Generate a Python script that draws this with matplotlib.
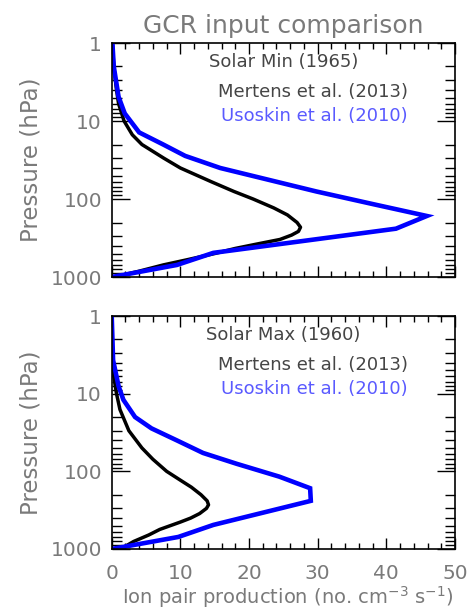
import numpy as np
import matplotlib
matplotlib.use('Agg')
import matplotlib.pyplot as plt
from matplotlib.ticker import MultipleLocator, LogLocator, FixedLocator, NullFormatter

# Solar Min (1965) - Mertens et al. (2013)
min_mert_p = [1, 2, 4, 6, 10, 15, 20, 30, 40, 60, 80, 100, 130, 160, 200, 230, 260, 290, 330,
              380, 430, 500, 600, 700, 850, 1000]
min_mert_x = [0.1, 0.3, 0.7, 1.0, 1.8, 3.0, 4.4, 7.6, 10.0, 14.5, 17.8, 20.6, 23.6, 25.6, 27.0,
              27.5, 27.2, 26.2, 24.5, 21.0, 18.0, 15.0, 11.0, 7.5, 3.8, 0.3]
# Solar Min (1965) - Usoskin et al. (2010)
min_uso_p = [1, 2, 4.9, 8, 14, 20, 28, 40, 80, 117, 165, 240, 490, 700, 1000]
min_uso_x = [0.1, 0.3, 1.0, 1.9, 4.0, 7.5, 10.7, 15.8, 29.8, 38.2, 45.9, 41.4, 14.8, 9.5, 0.0]

# Solar Max (1960) - Mertens et al. (2013)
max_mert_p = [1, 3, 6, 10, 16, 30, 50, 70, 100, 130, 160, 200, 240, 270, 300, 350, 400, 450,
              560, 660, 800, 1000]
max_mert_x = [0.0, 0.05, 0.3, 0.7, 1.2, 2.5, 4.4, 6.0, 8.0, 10.0, 11.6, 13.0, 13.9, 14.1, 13.8,
              12.8, 11.5, 10.0, 7.0, 5.4, 3.2, 1.3]
# Solar Max (1960) - Usoskin et al. (2010)
max_uso_p = [1, 3.7, 8, 12, 20, 28, 40, 58, 80, 117, 165, 240, 490, 700, 1000]
max_uso_x = [0.0, 0.2, 1.0, 1.7, 3.4, 5.8, 9.5, 13.3, 18.2, 24.4, 28.9, 29.0, 14.8, 9.7, 0.0]

ytick_vals = [1, 10, 100, 1000]
ytick_labs = ['1', '10', '100', '1000']

gray = '#7a7a7a'
dgray = '#454545'
lblue = '#5a5aff'

plt.rcParams['font.family'] = ['DejaVu Sans']

fig = plt.figure(figsize=(4.68, 6.11), dpi=100)
ax1 = fig.add_axes([0.2387, 0.5466, 0.7335, 0.383])
ax2 = fig.add_axes([0.2387, 0.1015, 0.7335, 0.3813])

panels = [
    (ax1, 'Solar Min (1965)', min_mert_x, min_mert_p, min_uso_x, min_uso_p),
    (ax2, 'Solar Max (1960)', max_mert_x, max_mert_p, max_uso_x, max_uso_p),
]

for ax, lab, mx, mp, ux, up in panels:
    ax.plot(mx, mp, color='black', lw=2.5, solid_joinstyle='round')
    ax.plot(ux, up, color='#0000ff', lw=3.3, solid_joinstyle='miter')
    ax.set_yscale('log')
    ax.set_ylim(1000, 1)
    ax.set_xlim(0, 50)
    ax.yaxis.set_major_locator(FixedLocator(ytick_vals))
    ax.set_yticklabels(ytick_labs)
    ax.yaxis.set_minor_locator(LogLocator(base=10, subs=np.arange(2, 10)))
    ax.yaxis.set_minor_formatter(NullFormatter())
    ax.xaxis.set_major_locator(MultipleLocator(10))
    ax.xaxis.set_minor_locator(MultipleLocator(2))
    ax.tick_params(axis='both', which='both', direction='in', top=True, right=True,
                   colors='black', labelcolor=gray, labelsize=14.5, width=1)
    ax.tick_params(axis='y', which='major', length=13, pad=7)
    ax.tick_params(axis='y', which='minor', length=7)
    ax.tick_params(axis='x', which='major', length=8, pad=11)
    ax.tick_params(axis='x', which='minor', length=4)
    for s in ax.spines.values():
        s.set_linewidth(1.2)
    ax.set_ylabel('Pressure (hPa)', color=gray, fontsize=16.5, labelpad=6)
    ax.text(0.5, 0.92, lab, transform=ax.transAxes, ha='center', va='center',
            color=dgray, fontsize=13)
    ax.text(0.863, 0.79, 'Mertens et al. (2013)', transform=ax.transAxes, ha='right',
            va='center', color=dgray, fontsize=13)
    ax.text(0.863, 0.687, 'Usoskin et al. (2010)', transform=ax.transAxes, ha='right',
            va='center', color=lblue, fontsize=13)

ax1.tick_params(axis='x', labelbottom=False)
ax1.set_title('GCR input comparison', color=gray, fontsize=18, pad=7)
ax2.set_xlabel('Ion pair production (no. cm$^{-3}$ s$^{-1}$)', color=gray, fontsize=14, labelpad=3)
ax2.xaxis.set_label_coords(0.513, -0.15)

fig.savefig('out.png', dpi=100)
